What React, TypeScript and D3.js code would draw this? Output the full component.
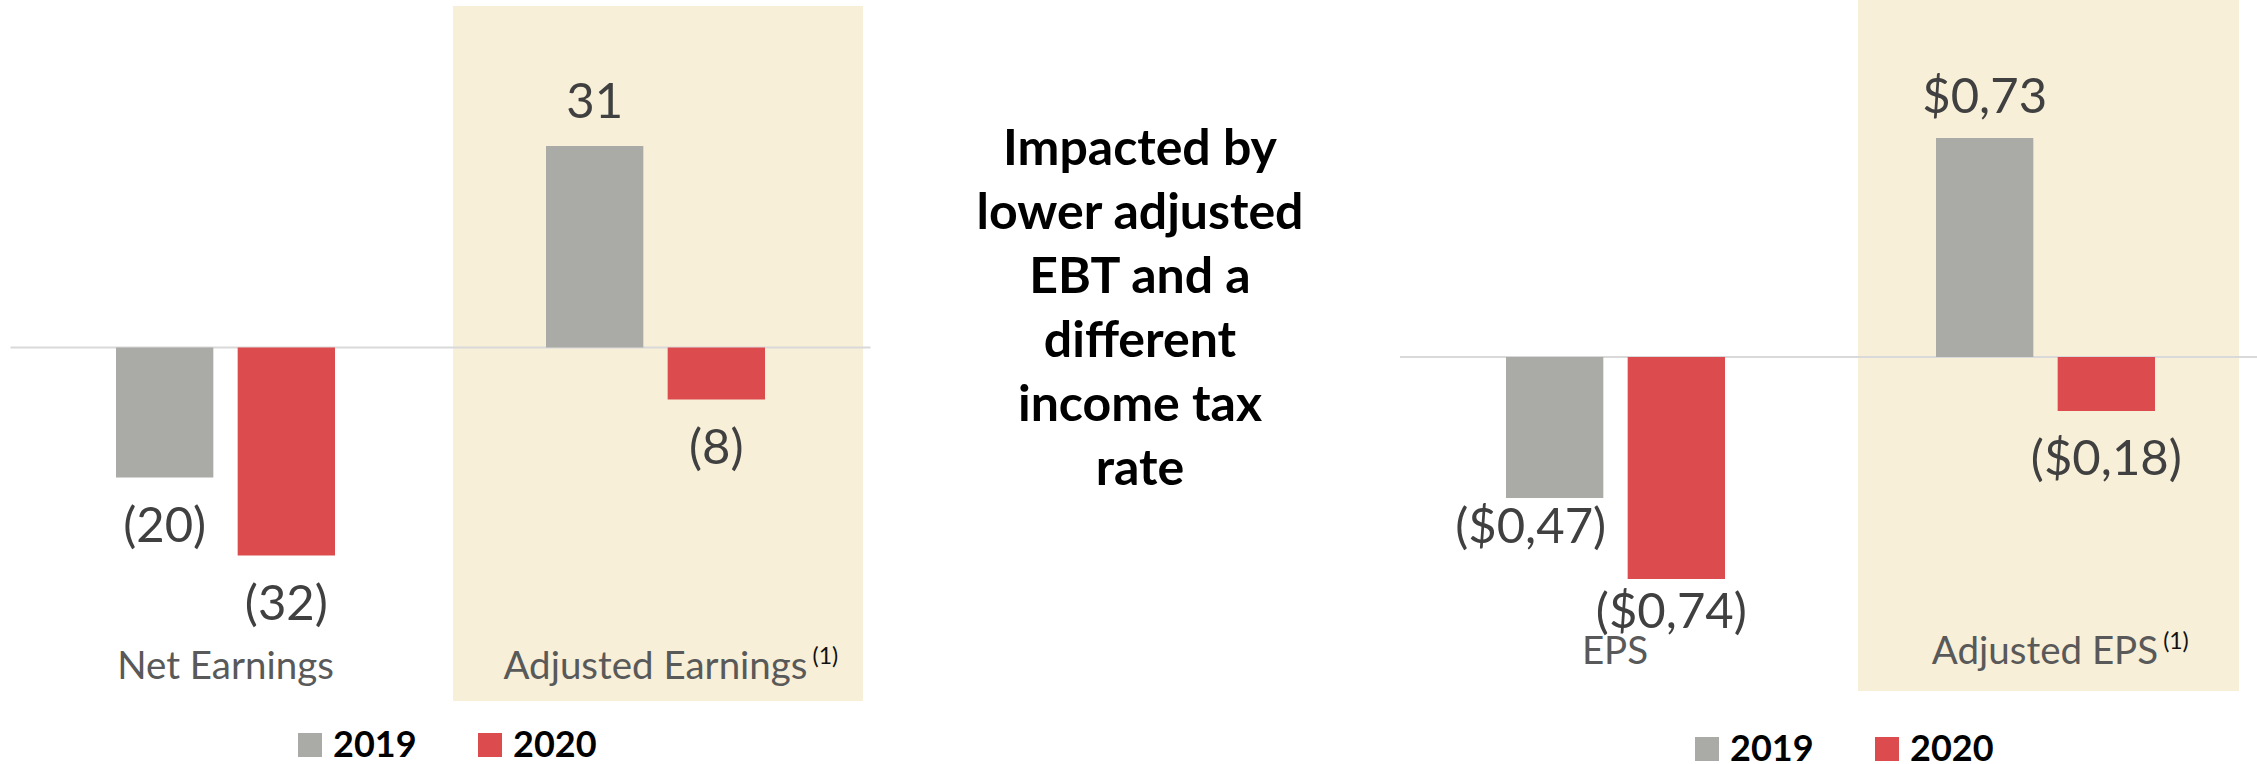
import React from 'react';
import * as d3 from 'd3';

// ---------- data ----------
const series = ['2019', '2020'];
const seriesColors = ['#AAABA6', '#DC4C4E'];

const earningsCategories = ['Net Earnings', 'Adjusted Earnings'];
const earnings2019 = [-20, 31];
const earnings2020 = [-32, -8];
const earningsLabels2019 = ['(20)', '31'];
const earningsLabels2020 = ['(32)', '(8)'];

const epsCategories = ['EPS', 'Adjusted EPS'];
const eps2019 = [-0.47, 0.73];
const eps2020 = [-0.74, -0.18];
const epsLabels2019 = ['($0,47)', '$0,73'];
const epsLabels2020 = ['($0,74)', '($0,18)'];

const footnoteCategories = ['Adjusted Earnings', 'Adjusted EPS'];
const footnoteMark = '(1)';

const commentLines = ['Impacted by', 'lower adjusted', 'EBT and a', 'different', 'income tax', 'rate'];

// ---------- helpers ----------
const FONT = 'Lato, "Open Sans", sans-serif';
let _ctx: CanvasRenderingContext2D | null = null;
function measure(text: string, font: string) {
  if (!_ctx) _ctx = document.createElement('canvas').getContext('2d');
  if (!_ctx) return text.length * 10;
  _ctx.font = font;
  return _ctx.measureText(text).width;
}

type PanelProps = {
  categories: string[];
  values: number[][];
  labels: string[][];
  xRange: [number, number];
  barRange: [number, number];
  yDomain: [number, number];
  yRange: [number, number];
  box: { band: number; x0: number; x1: number; y0: number; y1: number };
  posGap: number;
  negGap: number;
  nudges?: { [k: string]: [number, number] };
  catY: number;
  legendX: number;
  legendY: number;
};

const CAT_SIZE = 38.5;

function Panel(p: PanelProps) {
  const x0 = d3.scaleBand<string>().domain(p.categories).range(p.xRange).paddingInner(0).paddingOuter(0);
  const x1 = d3.scaleBand<string>().domain(series).range(p.barRange).paddingInner(0.2);
  const y = d3.scaleLinear().domain(p.yDomain).range(p.yRange);
  const zero = y(0);
  const boxBandX = x0(p.categories[p.box.band]) as number;
  const catFont = `${CAT_SIZE}px Lato`;
  return (
    <g>
      <rect
        x={boxBandX + p.box.x0}
        y={p.box.y0}
        width={x0.bandwidth() - p.box.x0 - p.box.x1}
        height={p.box.y1 - p.box.y0}
        fill="#F7EFD8"
      />
      <line x1={p.xRange[0]} x2={p.xRange[1]} y1={zero} y2={zero} stroke="#D9D9D9" strokeWidth={2} />
      {p.categories.map((c, ci) => {
        const bx = x0(c) as number;
        return (
          <g key={c}>
            {series.map((s, si) => {
              const v = p.values[si][ci];
              const xb = bx + (x1(s) as number);
              const top = Math.min(y(v), zero);
              const h = Math.abs(y(v) - zero);
              const cx = xb + x1.bandwidth() / 2;
              const nk = `${si}-${ci}`;
              const nd = (p.nudges && p.nudges[nk]) || [0, 0];
              const ly = v >= 0 ? y(v) - p.posGap : y(v) + p.negGap;
              return (
                <g key={s}>
                  <rect x={xb} y={top} width={x1.bandwidth()} height={h} fill={seriesColors[si]} />
                  <text
                    x={cx + nd[0]}
                    y={ly + nd[1]}
                    textAnchor="middle"
                    fontFamily={FONT}
                    fontSize={49}
                    fill="#404040"
                  >
                    {p.labels[si][ci]}
                  </text>
                </g>
              );
            })}
            <text x={bx + x0.bandwidth() / 2} y={p.catY} textAnchor="middle" fontFamily={FONT} fontSize={CAT_SIZE} fill="#595959">
              {c}
            </text>
            {footnoteCategories.includes(c) && (
              <text
                x={bx + x0.bandwidth() / 2 + measure(c, catFont) / 2 + 5}
                y={p.catY - 15}
                fontFamily={FONT}
                fontSize={23}
                fill="#111"
              >
                {footnoteMark}
              </text>
            )}
          </g>
        );
      })}
      {series.map((s, si) => (
        <g key={s}>
          <rect x={p.legendX + si * 180} y={p.legendY - 24} width={24} height={24} fill={seriesColors[si]} />
          <text x={p.legendX + si * 180 + 35} y={p.legendY} fontFamily={FONT} fontWeight={700} fontSize={36} fill="#000">
            {s}
          </text>
        </g>
      ))}
    </g>
  );
}

export default function App() {
  return (
    <svg
      width={2257}
      height={764}
      viewBox="0 0 2257 764"
      style={{ position: 'absolute', left: 0, top: 0, background: '#fff' }}
    >
      <rect x={0} y={0} width={2257} height={764} fill="#fff" />
      <Panel
        categories={earningsCategories}
        values={[earnings2019, earnings2020]}
        labels={[earningsLabels2019, earningsLabels2020]}
        xRange={[10.5, 870.5]}
        barRange={[105.5, 324.5]}
        yDomain={[-40, 50]}
        yRange={[607.5, 22.5]}
        box={{ band: 1, x0: 12.5, x1: 7.5, y0: 6, y1: 701 }}
        posGap={28}
        negGap={64}
        catY={679}
        legendX={298}
        legendY={757}
      />
      <Panel
        categories={epsCategories}
        values={[eps2019, eps2020]}
        labels={[epsLabels2019, epsLabels2020]}
        xRange={[1400, 2260]}
        barRange={[106, 325]}
        yDomain={[-1, 1]}
        yRange={[657, 57]}
        box={{ band: 1, x0: 28, x1: 21, y0: 0, y1: 691 }}
        posGap={25}
        negGap={64}
        nudges={{ '0-0': [-24, -19], '1-0': [-5, -15.5] }}
        catY={664}
        legendX={1695}
        legendY={761}
      />
      <g>
        {commentLines.map((t, i) => (
          <text
            key={i}
            x={1140}
            y={165 + i * 64}
            textAnchor="middle"
            fontFamily={FONT}
            fontWeight={700}
            fontSize={50}
            fill="#000"
          >
            {t}
          </text>
        ))}
      </g>
    </svg>
  );
}
